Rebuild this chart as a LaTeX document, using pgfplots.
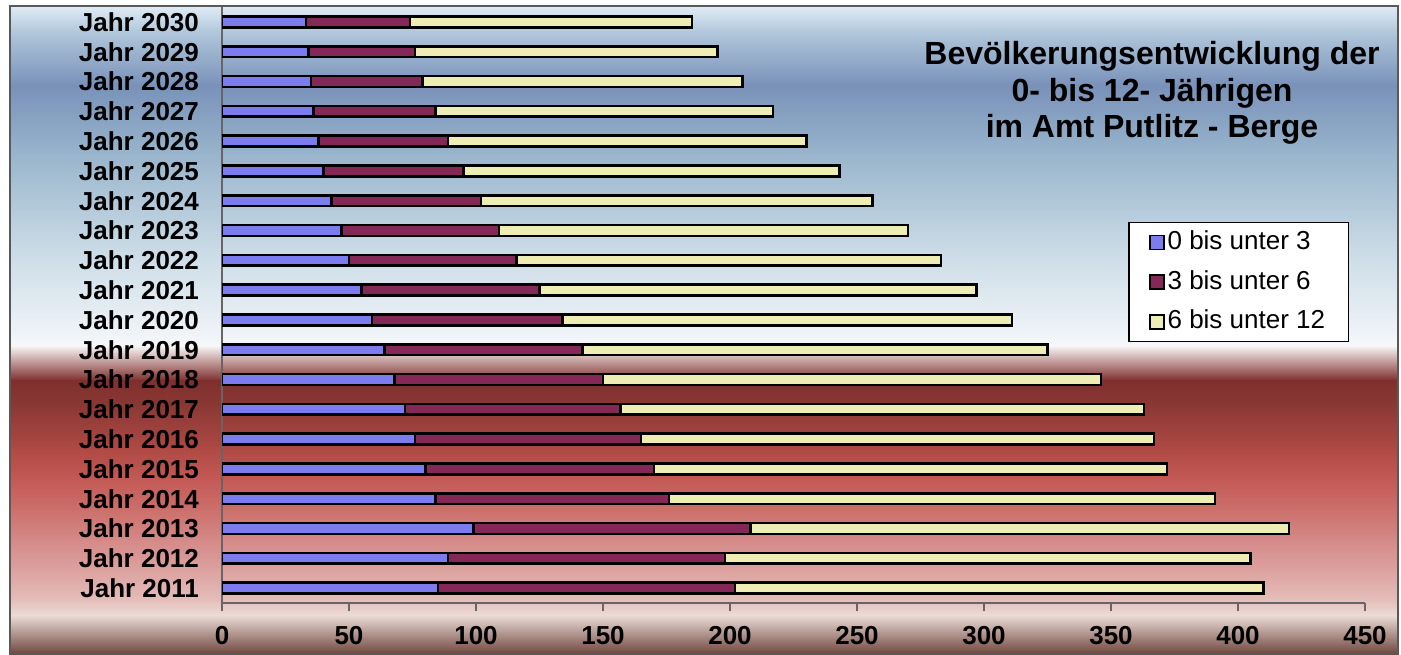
\documentclass[border=0pt]{standalone}
\usepackage{fontspec}
\setmainfont{Liberation Sans}
\usepackage{pgfplots}
\pgfplotsset{compat=1.18}
\definecolor{aE}{HTML}{7C7CEE}
\definecolor{aM}{HTML}{A8A8FF}
\definecolor{bE}{HTML}{842858}
\definecolor{bM}{HTML}{A84470}
\definecolor{cE}{HTML}{EEEEB4}
\definecolor{cM}{HTML}{FFFFD8}
\begin{document}
\begin{tikzpicture}
\begin{scope}[x=0.5pt,y=-0.5pt]
\useasboundingbox (0,0) rectangle (1401,654);
\fill[white] (0,0) rectangle (1401,654);
\foreach \ya/\ca/\yb/\cb in {6/E0ECF5/30/B3C9DC, 30/B3C9DC/85/7991B9, 85/7991B9/150/97B3CB, 150/97B3CB/250/CADBE6, 250/CADBE6/335/F0F4F8, 335/F0F4F8/347/F8F8FA, 347/F4EEEE/380/7E2F2D, 380/7E2F2D/410/8E3A36, 410/8E3A36/450/B04A45, 450/B04A45/480/C45A56, 480/C45A56/510/CC706C, 510/CC706C/540/D48A88, 540/D48A88/570/DCA2A0, 570/DCA2A0/600/E4BEBA, 600/E4BEBA/615/ECDCD6, 615/ECDCD6/654/6C443C} {
  \definecolor{ca}{HTML}{\ca}\definecolor{cb}{HTML}{\cb}
  \shade[top color=ca, bottom color=cb] (10,\ya) rectangle (1398,\yb+0.7);
}
\draw[black!65, line width=0.6pt] (10,6) rectangle (1398,655);
\end{scope}
\begin{axis}[
  at={(111pt,-301.5pt)}, anchor=south west,
  scale only axis, width=571.5pt, height=298pt,
  xbar stacked, bar width=5.4pt,
  xmin=0, xmax=450, ymin=-0.5, ymax=19.5,
  xtick={0,50,...,450},
  ytick={0,...,19},
  yticklabels={Jahr 2011,Jahr 2012,Jahr 2013,Jahr 2014,Jahr 2015,Jahr 2016,Jahr 2017,Jahr 2018,Jahr 2019,Jahr 2020,Jahr 2021,Jahr 2022,Jahr 2023,Jahr 2024,Jahr 2025,Jahr 2026,Jahr 2027,Jahr 2028,Jahr 2029,Jahr 2030},
  axis lines=left, axis line style={-, draw=black!60, line width=0.6pt},
  tick align=outside, major tick length=4pt,
  ytick style={draw=none}, xtick style={draw=black!60, line width=0.6pt},
  /pgf/number format/assume math mode=true,
  ticklabel style={font=\bfseries\fontsize{13}{15}\selectfont},
  yticklabel style={xshift=-4pt},
  xticklabel style={yshift=-4pt},
  legend style={at={(0.793,0.639)}, anchor=north west, draw=black, fill=white, line width=0.6pt,
    font=\fontsize{13}{15}\selectfont, inner xsep=10pt, inner ysep=0pt,
    nodes={text height=9.5pt, text depth=2.5pt, inner ysep=3.9pt, inner xsep=1.5pt}},
  legend cell align=left,
  legend image code/.code={\draw[#1, line width=0.8pt] (0pt,-3.5pt) rectangle (7pt,3.5pt);},
]
\addplot[draw=black, line width=1.3pt, top color=aE, middle color=aM, bottom color=aE] coordinates {
(85,0) (89,1) (99,2) (84,3) (80,4) (76,5) (72,6) (68,7) (64,8) (59,9) (55,10) (50,11) (47,12) (43,13) (40,14) (38,15) (36,16) (35,17) (34,18) (33,19)};
\addplot[draw=black, line width=1.3pt, top color=bE, middle color=bM, bottom color=bE] coordinates {
(117,0) (109,1) (109,2) (92,3) (90,4) (89,5) (85,6) (82,7) (78,8) (75,9) (70,10) (66,11) (62,12) (59,13) (55,14) (51,15) (48,16) (44,17) (42,18) (41,19)};
\addplot[draw=black, line width=1.3pt, top color=cE, middle color=cM, bottom color=cE] coordinates {
(208,0) (207,1) (212,2) (215,3) (202,4) (202,5) (206,6) (196,7) (183,8) (177,9) (172,10) (167,11) (161,12) (154,13) (148,14) (141,15) (133,16) (126,17) (119,18) (111,19)};
\legend{0 bis unter 3, 3 bis unter 6, 6 bis unter 12}
\end{axis}
\node[align=center, font=\bfseries\fontsize{16}{18.3}\selectfont] at (576pt,-46.5pt) {Bevölkerungsentwicklung der\\0- bis 12- Jährigen\\im Amt Putlitz - Berge};
\end{tikzpicture}
\end{document}
